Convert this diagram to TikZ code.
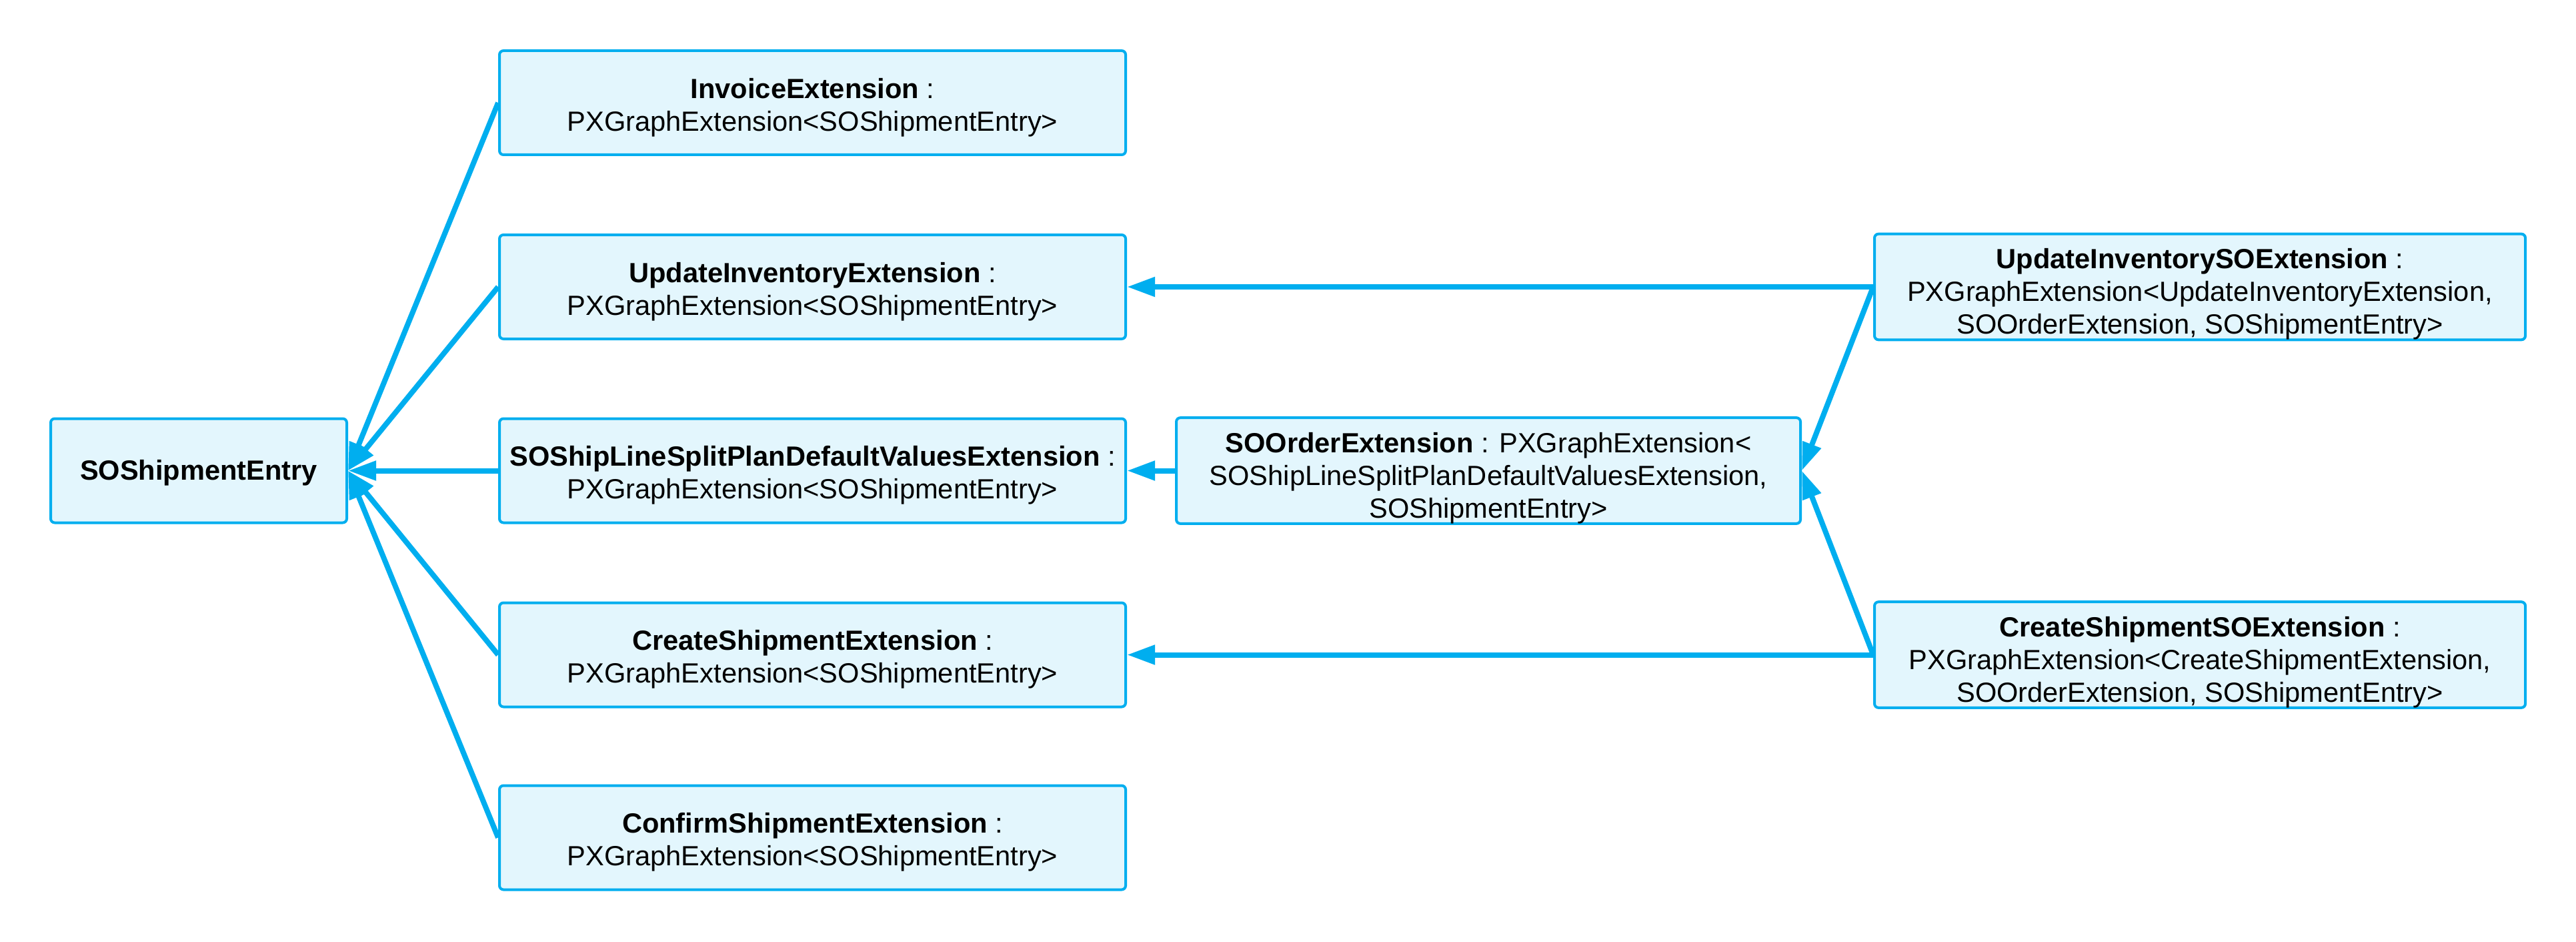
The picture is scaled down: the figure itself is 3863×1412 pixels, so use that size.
\documentclass[tikz,border=0pt]{standalone}
\usepackage{fontspec}
\setmainfont{Liberation Sans}
\usetikzlibrary{arrows.meta}
\definecolor{edgeblue}{HTML}{00AEEF}
\definecolor{boxfill}{HTML}{E3F6FD}
\newcommand{\topstrut}[1]{\rule{0pt}{#1}}
\begin{document}
\begin{tikzpicture}[x=0.25pt,y=-0.25pt,
  cls/.style={draw=edgeblue,fill=boxfill,line width=1pt,rounded corners=1.5pt,
    minimum height=39pt,align=center,inner sep=0pt,
    font=\fontsize{10.4pt}{12.25pt}\selectfont},
  wcol/.style={minimum width=234.75pt},
  conn/.style={draw=edgeblue,line width=2pt,-{Triangle[length=10.5pt,width=7pt]}}]
\useasboundingbox (0,0) rectangle (3863,1412);
\node[cls,minimum width=111pt] (se) at (298,705.5) {\topstrut{8.95pt}\textbf{SOShipmentEntry}};
\node[cls,wcol] (inv) at (1218.5,154) {\topstrut{11pt}\textbf{InvoiceExtension} :\\PXGraphExtension<SOShipmentEntry>};
\node[cls,wcol] (upd) at (1218.5,430) {\topstrut{11pt}\textbf{UpdateInventoryExtension} :\\PXGraphExtension<SOShipmentEntry>};
\node[cls,wcol] (spl) at (1218.5,705.5) {\topstrut{11pt}\textbf{SOShipLineSplitPlanDefaultValuesExtension} :\\PXGraphExtension<SOShipmentEntry>};
\node[cls,wcol] (cre) at (1218.5,981.5) {\topstrut{11pt}\textbf{CreateShipmentExtension} :\\PXGraphExtension<SOShipmentEntry>};
\node[cls,wcol] (con) at (1218.5,1255.5) {\topstrut{11pt}\textbf{ConfirmShipmentExtension} :\\PXGraphExtension<SOShipmentEntry>};
\node[cls,minimum width=234pt] (soo) at (2232,705.5) {\topstrut{13pt}\textbf{SOOrderExtension} : PXGraphExtension<\\SOShipLineSplitPlanDefaultValuesExtension,\\SOShipmentEntry>};
\node[cls,minimum width=244pt] (uso) at (3299,430) {\topstrut{13pt}\textbf{UpdateInventorySOExtension} :\\PXGraphExtension<UpdateInventoryExtension,\\SOOrderExtension, SOShipmentEntry>};
\node[cls,minimum width=244pt] (cso) at (3299,981.5) {\topstrut{13pt}\textbf{CreateShipmentSOExtension} :\\PXGraphExtension<CreateShipmentExtension,\\SOOrderExtension, SOShipmentEntry>};
\foreach \n in {inv,upd,spl,cre,con}{\draw[conn] (\n.west) -- (se.east);}
\draw[conn] (soo.west) -- (spl.east);
\draw[conn] (uso.west) -- (upd.east);
\draw[conn] (cso.west) -- (cre.east);
\draw[conn] (uso.west) -- (soo.east);
\draw[conn] (cso.west) -- (soo.east);
\end{tikzpicture}
\end{document}
